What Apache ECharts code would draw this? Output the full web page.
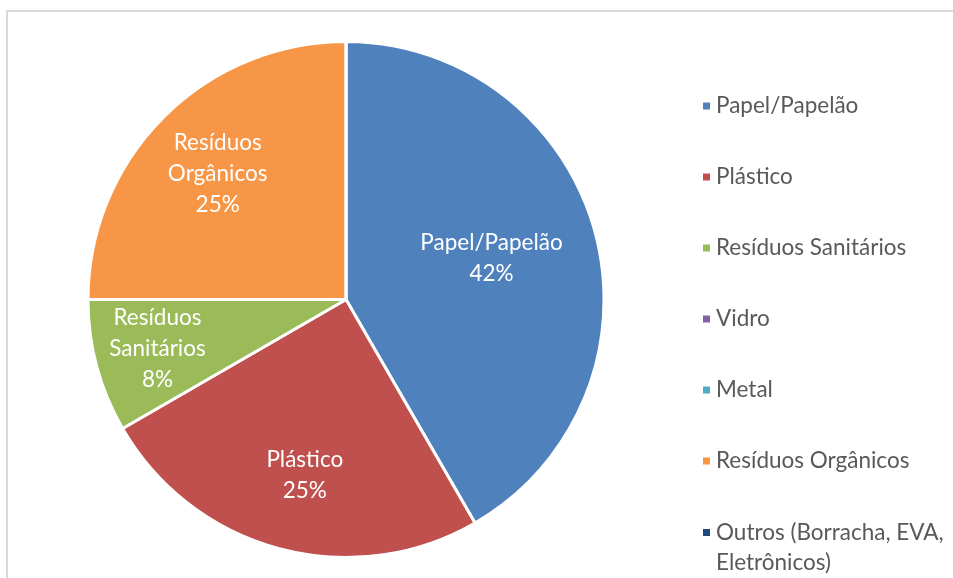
<!DOCTYPE html>
<html>
<head>
<meta charset="utf-8">
<script src="https://cdn.jsdelivr.net/npm/echarts@6/dist/echarts.min.js"></script>
<style>
html,body{margin:0;padding:0;background:#fff;}
#chart{width:953px;height:578px;}
</style>
</head>
<body>
<div id="chart"></div>
<script>
var categories = ['Papel/Papelão', 'Plástico', 'Resíduos Sanitários', 'Vidro', 'Metal', 'Resíduos Orgânicos', 'Outros (Borracha, EVA, Eletrônicos)'];
var values = [5, 3, 1, 0, 0, 3, 0];
var colors = ['#4F81BD', '#C0504D', '#9BBB59', '#8064A2', '#4BACC6', '#F79646', '#1F497D'];
var labelOffsets = [[18, -7.5], [-7, 48], [-61, 15], [0, 0], [0, 0], [-35, -32], [0, 0]];

var FONT = 'Lato';
var FS = 22.5;
var chart = echarts.init(document.getElementById('chart'));

var data = categories.map(function (name, i) {
  return {
    name: name,
    value: values[i],
    itemStyle: { color: colors[i] },
    label: { show: values[i] > 0, offset: labelOffsets[i] }
  };
});

var option = {
  animation: false,
  backgroundColor: '#ffffff',
  graphic: [{
    type: 'rect',
    silent: true,
    shape: { x: 7, y: 11, width: 1200, height: 1200 },
    style: { fill: 'none', stroke: '#d9d9d9', lineWidth: 2 }
  }],
  legend: [{
    orient: 'vertical',
    left: 701,
    top: 91,
    padding: 0,
    itemGap: 41,
    itemWidth: 9,
    itemHeight: 9,
    icon: 'rect',
    selectedMode: false,
    textStyle: { fontFamily: FONT, fontSize: FS, lineHeight: 30, color: '#595959' },
    data: categories.slice(0, 6)
  }, {
    orient: 'vertical',
    left: 701,
    top: 487.5,
    padding: 0,
    itemWidth: 9,
    itemHeight: 9,
    icon: 'rect',
    selectedMode: false,
    formatter: function (name) { return '\n' + name.replace(', Eletr', ',\nEletr'); },
    textStyle: { fontFamily: FONT, fontSize: FS, lineHeight: 30, color: '#595959' },
    data: categories.slice(6)
  }],
  series: [{
    type: 'pie',
    center: [346, 299.5],
    radius: 258,
    startAngle: 90,
    clockwise: true,
    percentPrecision: 0,
    avoidLabelOverlap: false,
    silent: true,
    itemStyle: { borderColor: '#ffffff', borderWidth: 3 },
    label: {
      position: 'inside',
      color: '#ffffff',
      fontFamily: FONT,
      fontSize: FS,
      lineHeight: 31,
      formatter: function (p) {
        return p.name.replace('Resíduos ', 'Resíduos\n') + '\n' + p.percent + '%';
      }
    },
    labelLine: { show: false },
    emphasis: { disabled: true },
    data: data
  }]
};
chart.setOption(option);
</script>
</body>
</html>
